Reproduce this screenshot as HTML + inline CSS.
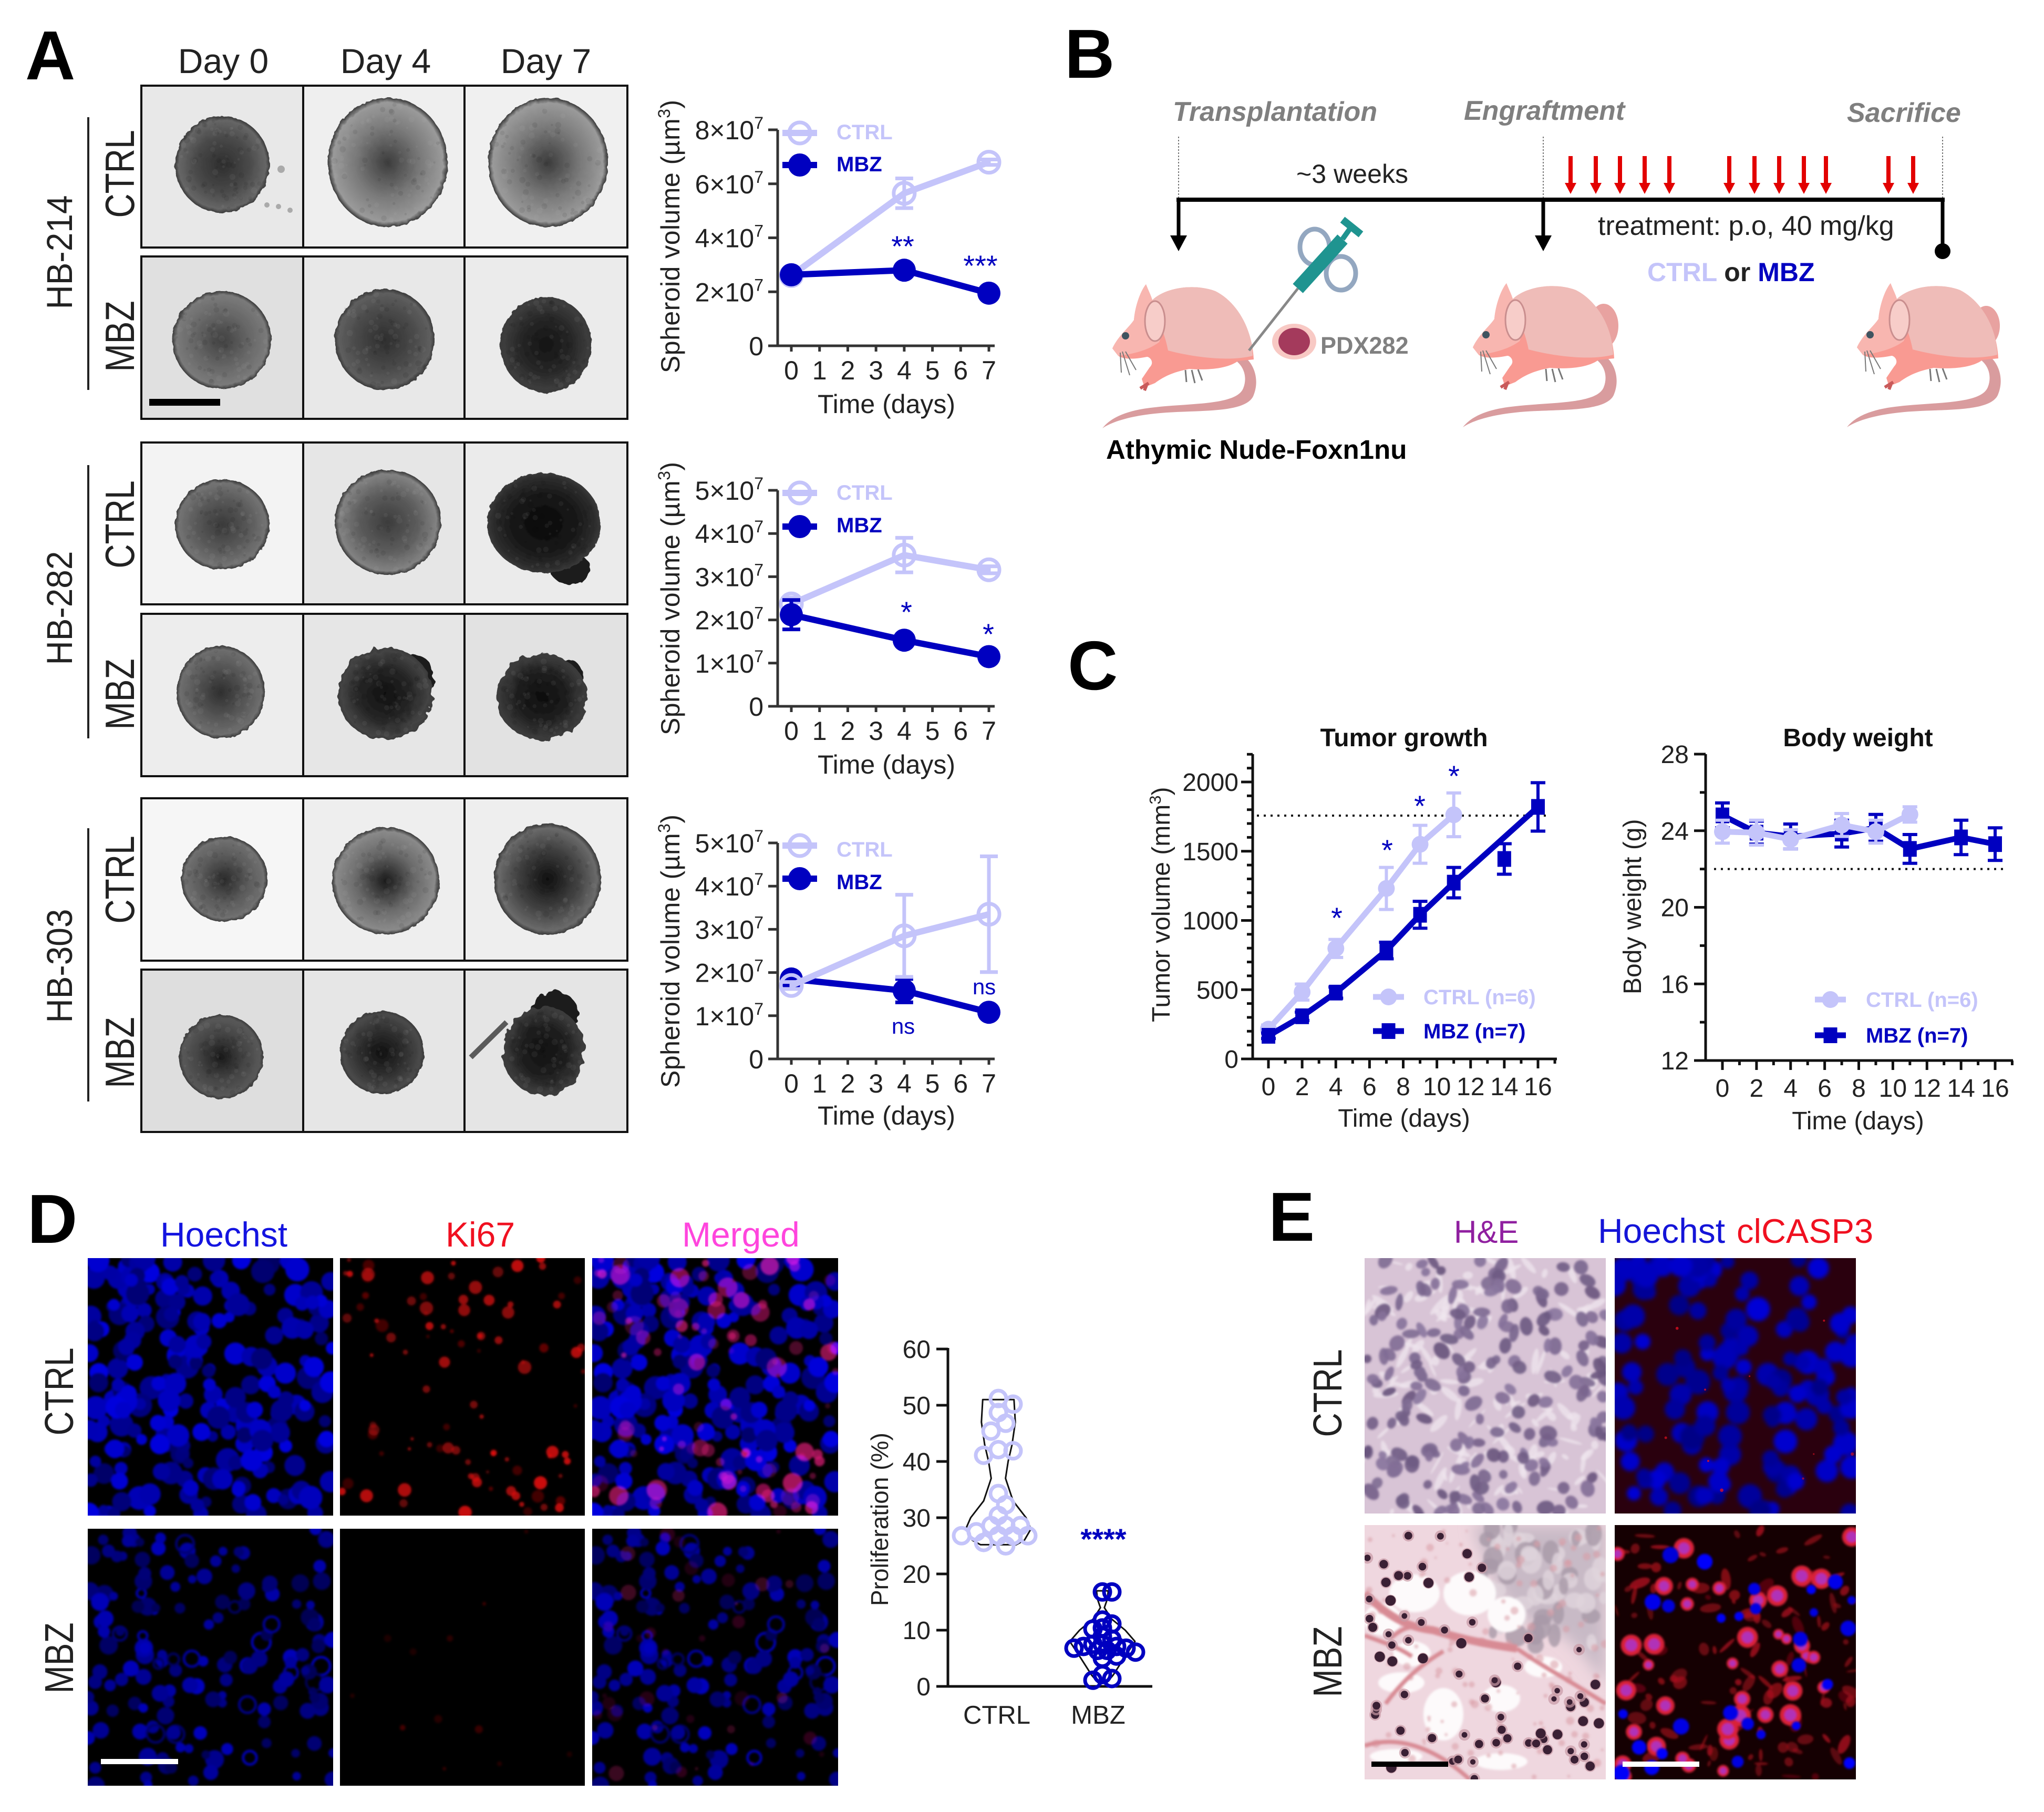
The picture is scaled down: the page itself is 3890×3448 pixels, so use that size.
<!DOCTYPE html>
<html lang="en">
<head>
<meta charset="utf-8">
<title>Mebendazole spheroid and PDX figure</title>
<style>
html,body{margin:0;padding:0;background:#fff;}
#fig{display:block;width:3890px;height:3448px;}
#fig text{font-family:"Liberation Sans",sans-serif;fill:#222;}
#fig .letter{font-weight:700;font-size:132px;fill:#000;}
#fig .head{font-size:66px;}
#fig .rot{font-size:64px;text-anchor:middle;}
#fig .axis-title{font-size:50px;}
#fig .leg{font-size:40px;font-weight:700;}
#fig .step{font-size:52px;font-weight:700;font-style:italic;fill:#7f7f7f;}
#fig .ctrl{fill:#c4c4fa;}
#fig .mbz{fill:#0000c0;}
#fig .star{font-size:56px;fill:#0000c0;text-anchor:middle;}
#fig .ns{font-size:42px;fill:#0000c0;text-anchor:middle;}
</style>
</head>
<body>
<svg id="fig" viewBox="0 0 3890 3448" width="3890" height="3448">
<defs>
  <filter id="f-rough" x="-20%" y="-20%" width="140%" height="140%"><feTurbulence type="fractalNoise" baseFrequency="0.06" numOctaves="2" seed="4"/><feDisplacementMap in="SourceGraphic" scale="16"/></filter>
  <filter id="f-fine" x="-20%" y="-20%" width="140%" height="140%"><feTurbulence type="fractalNoise" baseFrequency="0.09" numOctaves="2" seed="9"/><feDisplacementMap in="SourceGraphic" scale="6"/></filter>
  <filter id="f-soft" x="-10%" y="-10%" width="120%" height="120%"><feGaussianBlur stdDeviation="2"/></filter>
  <filter id="f-softer" x="-10%" y="-10%" width="120%" height="120%"><feGaussianBlur stdDeviation="4"/></filter>
  <filter id="f-blur" x="-30%" y="-30%" width="160%" height="160%"><feGaussianBlur stdDeviation="14"/></filter>
  <g id="mouse-shape">
    <path fill="#d99c9e" d="M262,135 C285,145 302,180 287,215 C270,250 170,240 100,248 C60,252 20,262 0,276 C20,250 60,240 100,236 C170,228 255,232 268,200 C276,180 270,160 255,148 Z"/>
    <path fill="#f99a92" d="M19,124 C30,100 50,85 60,70 C62,45 72,15 83,2 C88,15 92,22 95,32 C120,8 175,0 215,15 C255,35 285,85 288,145 L258,148 C235,165 190,165 165,163 C140,168 120,175 100,190 L80,198 L75,182 L90,160 C100,150 90,140 85,140 C60,145 40,145 30,138 Z"/>
    <path fill="#efbcb8" d="M95,32 C120,8 175,0 215,15 C255,35 285,85 286,138 C240,150 170,140 125,128 C118,90 100,60 95,32 Z"/>
    <path fill="#f8b6b0" d="M19,124 C30,100 50,85 60,70 C62,45 72,15 83,2 C88,15 92,22 95,32 C110,60 118,90 108,112 C90,126 60,135 30,138 Z"/>
    <ellipse cx="100" cy="72" rx="19" ry="38" fill="#f7cdc9" stroke="#c98e8e" stroke-width="3"/>
    <circle cx="44" cy="100" r="7" fill="#3f5460"/>
    <path d="M38,130 L52,175 M34,132 L36,170 M44,130 L64,165" stroke="#777" stroke-width="2" fill="none"/>
    <path d="M170,165 L176,190 M182,164 L190,185 M158,165 L160,188" stroke="#777" stroke-width="3" fill="none"/>
    <path d="M88,190 L72,200 M84,194 L80,204" stroke="#c95a5a" stroke-width="6" fill="none"/>
  </g>
</defs>
<rect width="3890" height="3448" fill="#fff"/>

<g id="spheroid-images"></g>

<g>
  <text class="letter" x="48" y="151">A</text>
  <text class="letter" x="2026" y="148">B</text>
  <text class="letter" x="2032" y="1312">C</text>
  <text class="letter" x="52" y="2365">D</text>
  <text class="letter" x="2414" y="2361">E</text>
</g>

<g>
  <text class="head" x="425" y="139" text-anchor="middle">Day 0</text>
  <text class="head" x="734" y="139" text-anchor="middle">Day 4</text>
  <text class="head" x="1039" y="139" text-anchor="middle">Day 7</text>
  <text class="rot" transform="translate(137,480) rotate(-90) scale(1,1.08)">HB-214</text>
  <text class="rot" transform="translate(137,1157) rotate(-90) scale(1,1.08)">HB-282</text>
  <text class="rot" transform="translate(137,1838) rotate(-90) scale(1,1.08)">HB-303</text>
  <text class="rot" transform="translate(255,331) rotate(-90) scale(1,1.22)">CTRL</text>
  <text class="rot" transform="translate(255,640) rotate(-90) scale(1,1.22)">MBZ</text>
  <text class="rot" transform="translate(255,998) rotate(-90) scale(1,1.22)">CTRL</text>
  <text class="rot" transform="translate(255,1321) rotate(-90) scale(1,1.22)">MBZ</text>
  <text class="rot" transform="translate(255,1674) rotate(-90) scale(1,1.22)">CTRL</text>
  <text class="rot" transform="translate(255,2003) rotate(-90) scale(1,1.22)">MBZ</text>
  <line x1="168" y1="223" x2="168" y2="742" stroke="#222" stroke-width="4"/>
  <line x1="168" y1="885" x2="168" y2="1405" stroke="#222" stroke-width="4"/>
  <line x1="168" y1="1576" x2="168" y2="2096" stroke="#222" stroke-width="4"/>
</g>

<g>
  <text class="axis-title" transform="translate(1293,710) rotate(-90)" textLength="520">Spheroid volume (µm<tspan dy="-18" font-size="32">3</tspan><tspan dy="18">)</tspan></text>
  <text class="axis-title" transform="translate(1293,1399) rotate(-90)" textLength="520">Spheroid volume (µm<tspan dy="-18" font-size="32">3</tspan><tspan dy="18">)</tspan></text>
  <text class="axis-title" transform="translate(1293,2070) rotate(-90)" textLength="520">Spheroid volume (µm<tspan dy="-18" font-size="32">3</tspan><tspan dy="18">)</tspan></text>
  <text class="axis-title" x="1687" y="786" text-anchor="middle">Time (days)</text>
  <text class="axis-title" x="1687" y="1472" text-anchor="middle">Time (days)</text>
  <text class="axis-title" x="1687" y="2140" text-anchor="middle">Time (days)</text>
  <text class="leg ctrl" x="1592" y="265">CTRL</text>
  <text class="leg mbz" x="1592" y="326">MBZ</text>
  <text class="leg ctrl" x="1592" y="951">CTRL</text>
  <text class="leg mbz" x="1592" y="1013">MBZ</text>
  <text class="leg ctrl" x="1592" y="1630">CTRL</text>
  <text class="leg mbz" x="1592" y="1692">MBZ</text>
  <text class="star" x="1718" y="488">**</text>
  <text class="star" x="1866" y="525">***</text>
  <text class="star" x="1725" y="1184">*</text>
  <text class="star" x="1881" y="1226">*</text>
  <text class="ns" x="1719" y="1967">ns</text>
  <text class="ns" x="1873" y="1892">ns</text>
</g>

<g>
  <text class="step" x="2232" y="230">Transplantation</text>
  <text class="step" x="2786" y="228">Engraftment</text>
  <text class="step" x="3515" y="232">Sacrifice</text>
  <path d="M2243,260V380M2937,260V380M3697,260V380" stroke="#777" stroke-width="2" stroke-dasharray="3 3" fill="none"/>
  <line x1="2239" y1="380" x2="3701" y2="380" stroke="#000" stroke-width="8"/>
  <path d="M2243,380V450" stroke="#000" stroke-width="7"/>
  <path d="M2227,448H2259L2243,478Z" fill="#000"/>
  <path d="M2937,380V450" stroke="#000" stroke-width="7"/>
  <path d="M2921,448H2953L2937,478Z" fill="#000"/>
  <path d="M3697,380V470" stroke="#000" stroke-width="7"/>
  <circle cx="3697" cy="478" r="15" fill="#000"/>
  <g id="dose-arrows"></g>
  <text x="2467" y="348" font-size="50" textLength="213">~3 weeks</text>
  <text x="3041" y="447" font-size="52">treatment: p.o, 40 mg/kg</text>
  <text x="3135" y="535" font-size="50" font-weight="700"><tspan class="ctrl">CTRL</tspan> or <tspan class="mbz">MBZ</tspan></text>
  <text x="2513" y="673" font-size="45" font-weight="700" style="fill:#808080">PDX282</text>
  <text x="2105" y="873" font-size="51" font-weight="700" style="fill:#000">Athymic Nude-Foxn1nu</text>
  <use href="#mouse-shape" x="2098" y="539"/>
  <ellipse cx="3052" cy="620" rx="28" ry="42" fill="#e8a2a0"/>
  <use href="#mouse-shape" x="2784" y="537"/>
  <ellipse cx="3780" cy="620" rx="26" ry="38" fill="#e8a2a0"/>
  <use href="#mouse-shape" x="3515" y="537"/>
  <g>
    <line x1="2377" y1="667" x2="2470" y2="549" stroke="#888" stroke-width="5"/>
    <ellipse cx="2502" cy="470" rx="28" ry="34" fill="none" stroke="#93a7c0" stroke-width="9"/>
    <ellipse cx="2552" cy="520" rx="28" ry="32" fill="none" stroke="#93a7c0" stroke-width="9"/>
    <line x1="2470" y1="549" x2="2555" y2="455" stroke="#1f9490" stroke-width="26"/>
    <line x1="2555" y1="455" x2="2575" y2="427" stroke="#1f9490" stroke-width="10"/>
    <line x1="2555" y1="418" x2="2590" y2="446" stroke="#1f9490" stroke-width="14"/>
  </g>
  <ellipse cx="2463" cy="650" rx="42" ry="34" fill="#f8c9c4"/>
  <ellipse cx="2463" cy="650" rx="30" ry="26" fill="#a43a5c"/>
</g>

<g>
  <text x="2672" y="1420" font-size="48" font-weight="700" text-anchor="middle" style="fill:#111">Tumor growth</text>
  <text x="3536" y="1420" font-size="48" font-weight="700" text-anchor="middle" style="fill:#111">Body weight</text>
  <text transform="translate(2226,1945) rotate(-90)" font-size="48">Tumor volume (mm<tspan dy="-17" font-size="31">3</tspan><tspan dy="17">)</tspan></text>
  <text transform="translate(3123,1892) rotate(-90)" font-size="48">Body weight (g)</text>
  <text x="2672" y="2144" font-size="48" text-anchor="middle">Time (days)</text>
  <text x="3536" y="2149" font-size="48" text-anchor="middle">Time (days)</text>
  <text class="leg ctrl" x="2709" y="1911">CTRL (n=6)</text>
  <text class="leg mbz" x="2709" y="1976">MBZ (n=7)</text>
  <text class="leg ctrl" x="3551" y="1916">CTRL (n=6)</text>
  <text class="leg mbz" x="3551" y="1984">MBZ (n=7)</text>
  <text class="star" x="2544" y="1766">*</text>
  <text class="star" x="2640" y="1637">*</text>
  <text class="star" x="2702" y="1553">*</text>
  <text class="star" x="2767" y="1496">*</text>
</g>

<g id="fluor-images"></g>

<g>
  <text x="305" y="2372" font-size="66" style="fill:#1414e0">Hoechst</text>
  <text x="848" y="2372" font-size="66" style="fill:#f01020">Ki67</text>
  <text x="1298" y="2372" font-size="66" style="fill:#ff45dd">Merged</text>
  <text class="rot" transform="translate(139,2648) rotate(-90) scale(1,1.2)">CTRL</text>
  <text class="rot" transform="translate(139,3155) rotate(-90) scale(1,1.2)">MBZ</text>
  <text transform="translate(1690,3056) rotate(-90)" font-size="46">Proliferation (%)</text>
  <text x="1897" y="3280" font-size="49" text-anchor="middle">CTRL</text>
  <text x="2090" y="3280" font-size="49" text-anchor="middle">MBZ</text>
  <text class="star" x="2100" y="2948" style="font-weight:700">****</text>
</g>

<g>
  <text x="2767" y="2365" font-size="60" style="fill:#9020a0">H&amp;E</text>
  <text x="3041" y="2365" font-size="66" style="fill:#1414d8">Hoechst</text>
  <text x="3305" y="2365" font-size="65" style="fill:#f01020">clCASP3</text>
  <text class="rot" transform="translate(2553,2651) rotate(-90) scale(1,1.2)">CTRL</text>
  <text class="rot" transform="translate(2553,3162) rotate(-90) scale(1,1.2)">MBZ</text>
</g>

<g id="charts"></g>
</svg>

<script>
/* ---------- chart data ---------- */
const spheroidDays = [0, 4, 7];
const spheroidDayTicks = [0, 1, 2, 3, 4, 5, 6, 7];

const hb214YTicks = [0, 2, 4, 6, 8];
const hb214CtrlVolume = [2.6, 5.65, 6.8];
const hb214CtrlError = [0.15, 0.55, 0.1];
const hb214MbzVolume = [2.63, 2.8, 1.95];
const hb214MbzError = [0.1, 0.1, 0.08];

const hb282YTicks = [0, 1, 2, 3, 4, 5];
const hb282CtrlVolume = [2.37, 3.5, 3.16];
const hb282CtrlError = [0.15, 0.4, 0.08];
const hb282MbzVolume = [2.12, 1.53, 1.15];
const hb282MbzError = [0.34, 0.08, 0.08];

const hb303YTicks = [0, 1, 2, 3, 4, 5];
const hb303CtrlVolume = [1.7, 2.85, 3.35];
const hb303CtrlError = [0.08, 0.95, 1.34];
const hb303MbzVolume = [1.85, 1.58, 1.08];
const hb303MbzError = [0.1, 0.27, 0.06];

const tumorTicks = [0, 500, 1000, 1500, 2000];
const tumorMinorTicks = [100,200,300,400,600,700,800,900,1100,1200,1300,1400,1600,1700,1800,1900,2100,2200];
const longDayTicks = [0, 2, 4, 6, 8, 10, 12, 14, 16];
const longDayMinorTicks = [1, 3, 5, 7, 9, 11, 13, 15, 17];
const ctrlDays = [0, 2, 4, 7, 9, 11];
const mbzDays = [0, 2, 4, 7, 9, 11, 14, 16];
const tumorCtrl = [215, 483, 798, 1231, 1550, 1763];
const tumorCtrlError = [30, 58, 65, 152, 137, 158];
const tumorMbz = [167, 308, 479, 783, 1041, 1273, 1444, 1820];
const tumorMbzError = [20, 30, 40, 60, 97, 110, 110, 175];
const tumorMbzLineSkipDays = [14];
const tumorThreshold = 1757;

const weightTicks = [12, 16, 20, 24, 28];
const weightMinorTicks = [14, 18, 22, 26];
const weightCtrl = [23.95, 23.9, 23.55, 24.3, 23.95, 24.85];
const weightCtrlError = [0.6, 0.65, 0.5, 0.6, 0.6, 0.4];
const weightMbz = [24.8, 23.9, 23.7, 23.85, 24.15, 23.05, 23.65, 23.3];
const weightMbzError = [0.65, 0.6, 0.65, 0.7, 0.7, 0.75, 0.9, 0.85];
const weightThreshold = 22;

const proliferationTicks = [0, 10, 20, 30, 40, 50, 60];
const proliferationCtrl = [51.2,50.2,48.7,46.8,45.4,42.1,41.9,41.1,34.3,32.3,30.4,28.6,28.6,28.6,27.5,26.8,26.8,26.8,26.8,25.6,25];
const proliferationMbz = [16.8,16.8,11.8,11.1,10.4,10.2,8.9,8.4,7.5,7.5,7.1,7.1,6.8,6.8,6.4,6.4,6.1,5.4,5,2.1,1.4,1.1];
const ctrlViolinLevels = [25.2,26,28,30,33,37,40,43,47,51];
const ctrlViolinDensity = [0.55,0.8,1,0.85,0.45,0.22,0.3,0.42,0.52,0.48];
const mbzViolinLevels = [0.6,2,5,8,10,12,14,15.5,17];
const mbzViolinDensity = [0.12,0.33,0.66,1,0.7,0.28,0.06,0.15,0.18];

/* ---------- helpers ---------- */
const NS = 'http://www.w3.org/2000/svg';
const CTRL = '#c4c4fa', MBZ = '#0000c0';
function make(tag, attrs, parent) {
  const el = document.createElementNS(NS, tag);
  for (const k in attrs) el.setAttribute(k, attrs[k]);
  if (parent) parent.appendChild(el);
  return el;
}
function scale(d0, d1, r0, r1) { return v => r0 + (v - d0) * (r1 - r0) / (d1 - d0); }
function rng(seed) {
  let a = seed >>> 0;
  return () => { a = (a + 0x6D2B79F5) >>> 0; let t = a; t = Math.imul(t ^ (t >>> 15), t | 1); t ^= t + Math.imul(t ^ (t >>> 7), t | 61); return ((t ^ (t >>> 14)) >>> 0) / 4294967296; };
}
const chartsRoot = document.getElementById('charts');

function drawAxes(parent, o) {
  const g = make('g', {}, parent);
  
  
  const sw = o.stroke;
  const yAxis = make('line', {x1:o.axisX, x2:o.axisX, y1:o.yTop, y2:o.axisY + sw/2, stroke:o.color, 'stroke-width':sw}, g);
  
  
  const xAxis = make('line', {x1:o.xMin, x2:o.xMax, y1:o.axisY, y2:o.axisY, stroke:o.color, 'stroke-width':sw}, g);
  
  
  (o.yTicks || []).forEach(t => {
    const y = o.ys(t);
    const tick = make('line', {x1:o.axisX - o.yTickLen, x2:o.axisX, y1:y, y2:y, stroke:o.color, 'stroke-width':sw}, g);
    
    
    const label = make('text', {x:o.yLabelX, y:y + o.yLabelDy, 'text-anchor':'end', 'font-size':o.fontSize}, g);
    
    
    if (o.sci && t !== 0) {
      label.appendChild(document.createTextNode(t + '×10'));
      const sup = make('tspan', {dy:-20, 'font-size':32}, label);
      sup.textContent = '7';
    } else {
      label.textContent = String(t);
    }
  });
  (o.yMinor || []).forEach(t => {
    const y = o.ys(t);
    const tick = make('line', {x1:o.axisX - o.yTickLen/2, x2:o.axisX, y1:y, y2:y, stroke:o.color, 'stroke-width':sw}, g);
    
    
  });
  (o.xTicks || []).forEach(t => {
    const x = o.xs(t);
    const tick = make('line', {x1:x, x2:x, y1:o.axisY, y2:o.axisY + o.xTickLen, stroke:o.color, 'stroke-width':sw}, g);
    
    
    const label = make('text', {x:x, y:o.axisY + o.xLabelDy, 'text-anchor':'middle', 'font-size':o.fontSize}, g);
    
    
    label.textContent = String(t);
  });
  (o.xMinor || []).forEach(t => {
    const x = o.xs(t);
    if (x > o.xMax) return;
    const tick = make('line', {x1:x, x2:x, y1:o.axisY, y2:o.axisY + o.xTickLen/2, stroke:o.color, 'stroke-width':sw}, g);
    
    
  });
}

function drawSeries(parent, name, days, values, errors, xs, ys, st) {
  const g = make('g', {}, parent);
  
  
  days.forEach((d, i) => {
    const x = xs(d), y0 = ys(values[i] + errors[i]), y1 = ys(values[i] - errors[i]);
    const bar = make('path', {d:`M${x-st.cap},${y0}H${x+st.cap}M${x},${y0}V${y1}M${x-st.cap},${y1}H${x+st.cap}`, stroke:st.color, 'stroke-width':st.errWidth, fill:'none'}, g);
    
    
  });
  const skip = st.lineSkip || [];
  const pts = days.map((d, i) => skip.includes(d) ? null : `${xs(d)},${ys(values[i])}`).filter(Boolean).join(' ');
  const line = make('polyline', {points:pts, fill:'none', stroke:st.color, 'stroke-width':st.lineWidth, 'stroke-linejoin':'round'}, g);
  
  
  days.forEach((d, i) => {
    const x = xs(d), y = ys(values[i]);
    let m;
    if (st.marker === 'ring') m = make('circle', {cx:x, cy:y, r:st.size, fill:'none', stroke:st.color, 'stroke-width':7}, g);
    else if (st.marker === 'square') m = make('rect', {x:x - st.size, y:y - st.size*1.15, width:st.size*2, height:st.size*2.3, fill:st.color}, g);
    else m = make('circle', {cx:x, cy:y, r:st.size, fill:st.color}, g);
    
    
  });
}

function drawLegendMark(parent, name, x0, x1, y, st) {
  const line = make('line', {x1:x0, x2:x1, y1:y, y2:y, stroke:st.color, 'stroke-width':st.lineWidth}, parent);
  
  
  const c = (x0 + x1) / 2;
  let m;
  if (st.marker === 'ring') m = make('circle', {cx:c, cy:y, r:st.size, fill:'none', stroke:st.color, 'stroke-width':7}, parent);
  else if (st.marker === 'square') m = make('rect', {x:c - st.size, y:y - st.size*1.15, width:st.size*2, height:st.size*2.3, fill:st.color}, parent);
  else m = make('circle', {cx:c, cy:y, r:st.size, fill:st.color}, parent);
  
  
}

/* ---------- panel A charts ---------- */
const spheroidCtrlStyle = {color:CTRL, marker:'ring', size:20, lineWidth:12, errWidth:7, cap:17};
const spheroidMbzStyle = {color:MBZ, marker:'dot', size:22, lineWidth:12, errWidth:7, cap:17};
const xsSpheroid = scale(0, 7, 1506, 1882);
function spheroidChart(name, ys, yTicks, ctrlV, ctrlE, mbzV, mbzE, legendY1, legendY2, mbzFirst) {
  const g = make('g', {}, chartsRoot);
  
  
  drawAxes(g, {name, xs:xsSpheroid, ys, xTicks:spheroidDayTicks, yTicks, sci:true, axisX:1480, axisY:ys(0), yTop:ys(yTicks[yTicks.length-1]), xMin:1462, xMax:1893, yTickLen:18, xTickLen:11, xLabelDy:64, yLabelX:1453, yLabelDy:18, fontSize:50, stroke:5, color:'#333'});
  const drawC = () => drawSeries(g, name + '-ctrl', spheroidDays, ctrlV, ctrlE, xsSpheroid, ys, spheroidCtrlStyle);
  const drawM = () => drawSeries(g, name + '-mbz', spheroidDays, mbzV, mbzE, xsSpheroid, ys, spheroidMbzStyle);
  if (mbzFirst) { drawM(); drawC(); } else { drawC(); drawM(); }
  drawLegendMark(g, name + '-ctrl', 1489, 1555, legendY1, spheroidCtrlStyle);
  drawLegendMark(g, name + '-mbz', 1489, 1555, legendY2, spheroidMbzStyle);
}
spheroidChart('hb-214', scale(0, 8, 658, 247), hb214YTicks, hb214CtrlVolume, hb214CtrlError, hb214MbzVolume, hb214MbzError, 253, 314, false);
spheroidChart('hb-282', scale(0, 5, 1344, 933), hb282YTicks, hb282CtrlVolume, hb282CtrlError, hb282MbzVolume, hb282MbzError, 938, 1002, false);
spheroidChart('hb-303', scale(0, 5, 2015, 1604), hb303YTicks, hb303CtrlVolume, hb303CtrlError, hb303MbzVolume, hb303MbzError, 1609, 1672, true);

/* ---------- panel C charts ---------- */
const longCtrlStyle = {color:CTRL, marker:'dot', size:16, lineWidth:11, errWidth:6, cap:14};
const longMbzStyle = {color:MBZ, marker:'square', size:13, lineWidth:11, errWidth:6, cap:14};
(function () {
  const g = make('g', {}, chartsRoot);
  
  
  const xs = scale(0, 16, 2414, 2927), ys = scale(0, 2000, 2015, 1488);
  drawAxes(g, {name:'tumor', xs, ys, xTicks:longDayTicks, xMinor:longDayMinorTicks, yTicks:tumorTicks, yMinor:tumorMinorTicks, axisX:2384, axisY:2015, yTop:1435, xMin:2362, xMax:2963, yTickLen:22, xTickLen:18, xLabelDy:69, yLabelX:2357, yLabelDy:17, fontSize:48, stroke:5, color:'#111'});
  const th = make('line', {x1:2392, x2:2950, y1:ys(tumorThreshold), y2:ys(tumorThreshold), stroke:'#111', 'stroke-width':4, 'stroke-dasharray':'4 9'}, g);
  
  
  drawSeries(g, 'tumor-ctrl', ctrlDays, tumorCtrl, tumorCtrlError, xs, ys, longCtrlStyle);
  drawSeries(g, 'tumor-mbz', mbzDays, tumorMbz, tumorMbzError, xs, ys, Object.assign({lineSkip:tumorMbzLineSkipDays}, longMbzStyle));
  drawLegendMark(g, 'tumor-ctrl', 2613, 2672, 1897, longCtrlStyle);
  drawLegendMark(g, 'tumor-mbz', 2613, 2672, 1962, longMbzStyle);
})();
(function () {
  const g = make('g', {}, chartsRoot);
  
  
  const xs = scale(0, 16, 3278, 3797), ys = scale(12, 28, 2018, 1435);
  drawAxes(g, {name:'weight', xs, ys, xTicks:longDayTicks, xMinor:longDayMinorTicks, yTicks:weightTicks, yMinor:weightMinorTicks, axisX:3246, axisY:2018, yTop:1435, xMin:3224, xMax:3831, yTickLen:22, xTickLen:18, xLabelDy:69, yLabelX:3214, yLabelDy:17, fontSize:48, stroke:5, color:'#111'});
  const th = make('line', {x1:3262, x2:3820, y1:ys(weightThreshold), y2:ys(weightThreshold), stroke:'#111', 'stroke-width':4, 'stroke-dasharray':'4 9'}, g);
  
  
  drawSeries(g, 'weight-mbz', mbzDays, weightMbz, weightMbzError, xs, ys, longMbzStyle);
  drawSeries(g, 'weight-ctrl', ctrlDays, weightCtrl, weightCtrlError, xs, ys, longCtrlStyle);
  drawLegendMark(g, 'weight-ctrl', 3454, 3513, 1902, longCtrlStyle);
  drawLegendMark(g, 'weight-mbz', 3454, 3513, 1970, longMbzStyle);
})();

/* ---------- panel D violin chart ---------- */
(function () {
  const g = make('g', {}, chartsRoot);
  
  
  const ys = scale(0, 60, 3209, 2567);
  drawAxes(g, {name:'proliferation', xs:v => v, ys, yTicks:proliferationTicks, axisX:1804, axisY:3209, yTop:2565, xMin:1782, xMax:2193, yTickLen:22, xTickLen:0, xLabelDy:0, yLabelX:1771, yLabelDy:17, fontSize:48, stroke:5, color:'#111'});
  function violin(name, cx, levels, density) {
    const right = levels.map((l, i) => `${cx + density[i]*62},${ys(l)}`);
    const left = levels.map((l, i) => `${cx - density[i]*62},${ys(l)}`).reverse();
    const v = make('polygon', {points:right.concat(left).join(' '), fill:'none', stroke:'#111', 'stroke-width':3, 'stroke-linejoin':'round'}, g);
    
    
  }
  function swarm(name, cx, values, color, step, minDist) {
    const placed = [];
    values.forEach(val => {
      const y = ys(val);
      let x = cx;
      for (let k = 0; k < 30; k++) {
        const off = (k % 2 ? 1 : -1) * Math.ceil(k / 2) * step;
        if (placed.every(p => Math.hypot(p[0] - (cx + off), p[1] - y) > minDist)) { x = cx + off; break; }
      }
      placed.push([x, y]);
      const c = make('circle', {cx:x, cy:y, r:15, fill:'none', stroke:color, 'stroke-width':7}, g);
      
      
    });
  }
  violin('ctrl', 1900, ctrlViolinLevels, ctrlViolinDensity);
  violin('mbz', 2098, mbzViolinLevels, mbzViolinDensity);
  swarm('ctrl', 1900, proliferationCtrl, CTRL, 14, 22);
  swarm('mbz', 2098, proliferationMbz, MBZ, 9, 14);
})();

/* ---------- panel B dose arrows ---------- */
const doseArrowRoot = document.getElementById('dose-arrows');
[2989,3037,3083,3130,3177,3291,3339,3386,3433,3475,3594,3641].forEach(x => {
  const a = make('path', {d:`M${x-4},297H${x+4}V348H${x+11}L${x},369L${x-11},348H${x-4}Z`, fill:'#e20000'}, doseArrowRoot);
  
  
});

/* ---------- spheroid micrographs ---------- */
const imgRoot = document.getElementById('spheroid-images');
const defsEl = document.querySelector('#fig defs');
const colEdges = [[269,577],[577,884],[884,1194]];
const rowEdges = [[163,471],[488,797],[842,1150],[1168,1477],[1519,1828],[1845,2154]];
const wellShades = [['#e8e8e8','#efefef','#f0f0f0'],['#e0e0e0','#e8e8e8','#ebebeb'],['#f3f3f3','#e6e6e6','#ebebeb'],['#ededed','#e6e6e6','#e2e2e2'],['#f6f6f6','#eeeeee','#eeeeee'],['#dedede','#e6e6e6','#e5e5e5']];
const spheroids = [
 [[423,313,90,92,'#2e2e2e','#484848','#666','f-fine'],[738,309,114,123,'#3c3c3c','#7a7a7a','#9a9a9a','f-fine'],[1043,309,114,123,'#3c3c3c','#7a7a7a','#9a9a9a','f-fine']],
 [[422,647,94,93,'#404040','#666','#7a7a7a','f-fine'],[732,646,95,96,'#2e2e2e','#484848','#5e5e5e','f-fine'],[1039,656,87,91,'#141414','#262626','#3c3c3c','f-fine']],
 [[423,998,90,86,'#3a3a3a','#585858','#737373','f-fine'],[738,994,101,100,'#3c3c3c','#5c5c5c','#828282','f-fine'],[1035,995,108,95,'#0a0a0a','#161616','#2e2e2e','f-fine']],
 [[420,1317,84,88,'#2e2e2e','#555','#6e6e6e','f-fine'],[733,1320,90,88,'#101010','#252525','#444','f-rough'],[1031,1326,86,82,'#0e0e0e','#1e1e1e','#3a3a3a','f-rough']],
 [[427,1673,82,81,'#2a2a2a','#5a5a5a','#707070','f-fine'],[734,1676,102,102,'#1a1a1a','#6a6a6a','#8a8a8a','f-fine'],[1042,1673,102,106,'#0f0f0f','#404040','#6a6a6a','f-fine']],
 [[421,2011,80,80,'#1a1a1a','#444','#585858','f-fine'],[727,2003,80,79,'#111','#303030','#4a4a4a','f-fine'],[1035,2000,78,85,'#111','#1e1e1e','#3a3a3a','f-rough']]
];
const spheroidLobes = [
 [1,1085,1082,38,30,'#1c1c1c',2,2], [1,790,1290,36,44,'#1e1e1e',3,1], [1,1080,1290,30,36,'#1a1a1a',3,2], [1,1055,1930,46,44,'#1c1c1c',5,2]
];
const spheroidRand = rng(7);
rowEdges.forEach((rowSpan, r) => {
  colEdges.forEach((colSpan, c) => {
    const w = colSpan[1] - colSpan[0], h = rowSpan[1] - rowSpan[0];
    const cell = make('g', {}, imgRoot);
    
    
    const bg = make('rect', {x:colSpan[0], y:rowSpan[0], width:w, height:h, fill:wellShades[r][c]}, cell);
    
    
    const s = spheroids[r][c];
    const id = `sph${r}${c}`;
    const gr = make('radialGradient', {id}, defsEl);
    make('stop', {offset:'0%', 'stop-color':s[4]}, gr);
    make('stop', {offset:'55%', 'stop-color':s[5]}, gr);
    make('stop', {offset:'92%', 'stop-color':s[6]}, gr);
    make('stop', {offset:'100%', 'stop-color':'#3a3a3a'}, gr);
    spheroidLobes.filter(l => l[6] === r && l[7] === c).forEach(l => {
      const lobe = make('ellipse', {cx:l[1], cy:l[2], rx:l[3], ry:l[4], fill:l[5], filter:'url(#f-rough)'}, cell);
      
      
    });
    const e = make('ellipse', {cx:s[0], cy:s[1], rx:s[2], ry:s[3], fill:`url(#${id})`, filter:`url(#${s[7]})`}, cell);
    
    
    for (let i = 0; i < 90; i++) {
      const a = spheroidRand() * 6.283, d = Math.sqrt(spheroidRand()) * 0.92;
      const sp = make('circle', {cx:s[0] + Math.cos(a)*d*s[2], cy:s[1] + Math.sin(a)*d*s[3], r:2 + spheroidRand()*4, fill:spheroidRand() > 0.5 ? '#000' : '#ccc', opacity:0.07}, cell);
      
      
    }
    const frame = make('rect', {x:colSpan[0], y:rowSpan[0], width:w, height:h, fill:'none', stroke:'#111', 'stroke-width':4}, cell);
    
    
  });
});
const strand = make('line', {x1:896, y1:2012, x2:964, y2:1945, stroke:'#5a5a5a', 'stroke-width':10}, imgRoot);


const bar1 = make('rect', {x:284, y:759, width:135, height:13, fill:'#000'}, imgRoot);


[[535,322,7],[508,390,5],[530,393,5],[552,400,5]].forEach(p => {
  const d = make('circle', {cx:p[0], cy:p[1], r:p[2], fill:'#aaa'}, imgRoot);
  
  
});

/* ---------- fluorescence and H&E micrographs ---------- */
const fluorRoot = document.getElementById('fluor-images');
function panel(name, x, y, w, h, bg) {
  const s = make('svg', {x, y, width:w, height:h, viewBox:`0 0 ${w} ${h}`}, fluorRoot);
  
  
  make('rect', {width:w, height:h, fill:bg}, s);
  return s;
}
function layer(parent, name, filter, blend) {
  const g = make('g', filter ? {filter} : {}, parent);
  
  
  if (blend) g.style.mixBlendMode = blend;
  return g;
}
function blueCells(seed, n, w, h, rMin, rMax, bMin, bMax, ringRate) {
  const R = rng(seed), list = [];
  for (let i = 0; i < n; i++) list.push({x:R()*w, y:R()*h, r:rMin + R()*(rMax-rMin), b:Math.round(bMin + R()*(bMax-bMin)), ring:R() < ringRate});
  return list;
}
function paintBlue(g, list) {
  list.forEach(c => {
    const el = make('circle', {cx:c.x, cy:c.y, r:c.r, fill:c.ring ? 'none' : `rgb(0,0,${c.b})`, stroke:c.ring ? `rgb(0,0,${c.b})` : 'none', 'stroke-width':c.ring ? 5 : 0}, g);
    
    
  });
}
function redCells(seed, n, w, h, rMin, rMax, o0, o1) {
  const R = rng(seed), list = [];
  for (let i = 0; i < n; i++) list.push({x:R()*w, y:R()*h, r:rMin + R()*(rMax-rMin), o:o0 + R()*(o1-o0)});
  return list;
}
function paintRed(g, list, col) {
  list.forEach(c => {
    const el = make('circle', {cx:c.x, cy:c.y, r:c.r, fill:col, opacity:c.o}, g);
    
    
  });
}
const W1 = 467, H1 = 490;
const hoechstCtrl = blueCells(11, 240, W1, H1, 10, 23, 100, 225, 0);
const hoechstMbz = blueCells(12, 160, W1, H1, 8, 18, 80, 190, 0.12);
const kiCtrl = redCells(13, 95, W1, H1, 3, 13, 0.2, 0.9);
const kiMbz = redCells(14, 12, W1, H1, 3, 9, 0.12, 0.3);
const kiMerged = kiCtrl.map(c => ({x:c.x, y:c.y, r:c.r*1.5, o:Math.min(1, c.o*0.9)}));

paintBlue(layer(panel('hoechst-ctrl-image', 167, 2394, W1, H1, '#000'), 'nuclei', 'url(#f-soft)'), hoechstCtrl);
paintRed(layer(panel('ki67-ctrl-image', 647, 2394, 466, H1, '#000'), 'ki67-stain', 'url(#f-soft)'), kiCtrl, '#e81010');
(function () { const p = panel('merged-ctrl-image', 1127, 2394, 468, H1, '#000'); paintBlue(layer(p, 'nuclei', 'url(#f-soft)'), hoechstCtrl); paintRed(layer(p, 'ki67-stain', 'url(#f-soft)', 'screen'), kiMerged, '#d01870'); })();
paintBlue(layer(panel('hoechst-mbz-image', 167, 2909, W1, 489, '#000'), 'nuclei', 'url(#f-soft)'), hoechstMbz);
paintRed(layer(panel('ki67-mbz-image', 647, 2909, 466, 489, '#000'), 'ki67-stain', 'url(#f-soft)'), kiMbz, '#e81010');
(function () { const p = panel('merged-mbz-image', 1127, 2909, 468, 489, '#000'); paintBlue(layer(p, 'nuclei', 'url(#f-soft)'), hoechstMbz); paintRed(layer(p, 'ki67-stain', 'url(#f-soft)', 'screen'), kiMbz.concat(redCells(15, 22, W1, H1, 7, 15, 0.12, 0.3)), '#d01870'); })();

/* H&E control */
(function () {
  const p = panel('he-ctrl-image', 2597, 2394, 459, 486, '#d8c4d6');
  const R = rng(21);
  const wisps = layer(p, 'stroma', 'url(#f-soft)');
  for (let i = 0; i < 160; i++) {
    const x = R()*459, y = R()*486;
    const el = make('ellipse', {cx:x, cy:y, rx:6 + R()*20, ry:2 + R()*6, fill:'#efe6ee', opacity:0.75, transform:`rotate(${R()*180} ${x} ${y})`}, wisps);
    
    
  }
  const nuc = layer(p, 'nuclei', 'url(#f-soft)');
  for (let i = 0; i < 190; i++) {
    const x = R()*459, y = R()*486, v = R();
    const el = make('ellipse', {cx:x, cy:y, rx:8 + R()*10, ry:7 + R()*7, fill:`rgb(${105+v*35|0},${85+v*35|0},${125+v*35|0})`, opacity:0.92, transform:`rotate(${R()*180} ${x} ${y})`}, nuc);
    
    
  }
})();
/* H&E MBZ */
(function () {
  const p = panel('he-mbz-image', 2597, 2902, 459, 484, '#efd7df');
  const R = rng(22);
  const top = layer(p, 'necrotic-region', 'url(#f-blur)');
  const reg = make('path', {d:'M205,0H459V300C420,260 400,200 300,180C250,140 230,60 205,0Z', fill:'#c8bac6'}, top);
  
  
  const blotches = layer(p, 'gray-cell-ghosts', 'url(#f-soft)');
  for (let i = 0; i < 60; i++) {
    const x = 225 + R()*234, y = R()*230;
    const el = make('ellipse', {cx:x, cy:y, rx:8 + R()*14, ry:10 + R()*16, fill:R() > 0.5 ? '#a898a8' : '#e0d4dc', opacity:0.8}, blotches);
    
    
  }
  const holes = layer(p, 'tissue-voids', 'url(#f-soft)');
  [[34,180,36,30],[95,130,48,36],[200,130,50,42],[270,170,36,34],[90,245,36,24],[340,270,36,20],[150,360,38,50],[70,300,44,20],[260,330,36,26],[60,440,50,14],[260,450,50,16]].forEach(h => {
    const el = make('ellipse', {cx:h[0], cy:h[1], rx:h[2], ry:h[3], fill:'#fdfafb'}, holes);
    
    
  });
  const specks = layer(p, 'tissue-fragments', 'url(#f-soft)');
  for (let i = 0; i < 130; i++) {
    const el = make('circle', {cx:R()*459, cy:R()*484, r:2 + R()*6, fill:'#d89aa4', opacity:0.55}, specks);
    
    
  }
  const strands = layer(p, 'pink-strands', 'url(#f-soft)');
  ['M0,130C40,170 80,195 130,200C180,215 220,225 290,235','M50,215C90,180 100,200 130,200','M0,210C40,225 60,230 90,250','M40,340C70,300 100,270 150,240','M0,420C60,400 130,420 200,484','M290,235C340,270 380,290 459,340'].forEach((d, i) => {
    const el = make('path', {d, fill:'none', stroke:'#d88b94', 'stroke-width':i === 0 ? 15 : 8}, strands);
    
    
  });
  const nuc = layer(p, 'pyknotic-nuclei');
  for (let i = 0; i < 80; i++) {
    const x = R()*459, y = R()*484;
    if (x > 230 && y < 190) continue;
    const ring = make('circle', {cx:x, cy:y, r:11, fill:'#c898a4', opacity:0.7}, nuc);
    
    
    const el = make('circle', {cx:x, cy:y, r:5 + R()*5, fill:'#3a2034'}, nuc);
    
    
  }
})();
/* Fluorescence control E */
(function () {
  const p = panel('clcasp3-ctrl-image', 3073, 2394, 459, 486, '#2a000e');
  paintBlue(layer(p, 'nuclei', 'url(#f-softer)'), blueCells(31, 135, 459, 486, 13, 24, 130, 215, 0));
  paintRed(layer(p, 'casp3-specks'), redCells(32, 10, 459, 486, 1.5, 3.5, 0.6, 0.9), '#e01020');
})();
/* Fluorescence MBZ E */
(function () {
  const p = panel('clcasp3-mbz-image', 3073, 2902, 459, 484, '#150002');
  const R = rng(33);
  const haze = layer(p, 'casp3-haze', 'url(#f-soft)');
  for (let i = 0; i < 115; i++) {
    const x = R()*459, y = R()*484;
    const el = make('ellipse', {cx:x, cy:y, rx:3 + R()*18, ry:2 + R()*10, fill:'#b81020', opacity:0.35 + R()*0.4, transform:`rotate(${R()*180} ${x} ${y})`}, haze);
    
    
  }
  const cells = layer(p, 'apoptotic-cells', 'url(#f-soft)');
  for (let i = 0; i < 40; i++) {
    const x = R()*459, y = R()*484, r = 10 + R()*11;
    const el = make('circle', {cx:x, cy:y, r, fill:'#d82038'}, cells);
    
    
    const inner = make('circle', {cx:x, cy:y, r:r*0.55, fill:'#b030b8'}, cells);
    
    
  }
  paintBlue(layer(p, 'nuclei', 'url(#f-soft)'), blueCells(34, 28, 459, 484, 8, 16, 215, 255, 0));
})();

[[192,3347,147,10,'#fff','d-scale-bar'],[2610,3352,146,10,'#000','he-scale-bar'],[3088,3352,146,10,'#fff','clcasp3-scale-bar']].forEach(b => {
  const el = make('rect', {x:b[0], y:b[1], width:b[2], height:b[3], fill:b[4]}, fluorRoot);
  
  
});
</script>
</body>
</html>
